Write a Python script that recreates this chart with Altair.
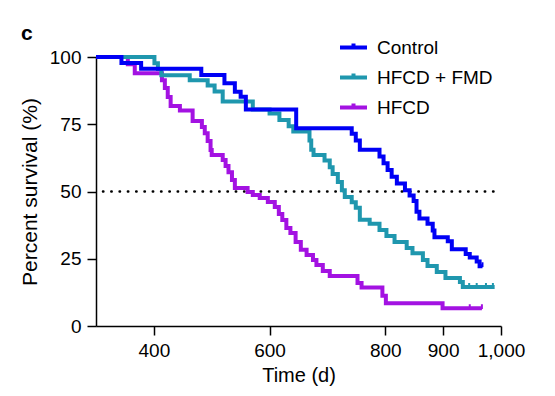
import altair as alt
import pandas as pd

# ---- data ----
groups = ["Control", "HFCD + FMD", "HFCD"]
colors = ["#0000f5", "#1f97ae", "#a312e2"]

control_t = [300, 344, 378, 482, 522, 540, 550, 559, 646, 742, 749, 756, 790, 797, 804, 811,
             820, 834, 842, 849, 854, 859, 873, 882, 885, 908, 915, 939, 946, 958, 963, 968]
control_s = [100, 97.8, 95.6, 93.3, 90.2, 87.1, 85.2, 80.5, 73.5, 71.5, 69, 65.5, 63, 60.5, 58, 55.5,
             53, 50.5, 48.5, 46.5, 42.5, 40, 38, 35.5, 33, 31.5, 28.5, 26.8, 25.5, 24, 22.2, 22.2]

fmd_t = [300, 401, 407, 413, 462, 493, 505, 519, 571, 600, 617, 633, 641, 669, 672, 676, 695, 704,
         709, 718, 725, 730, 742, 749, 756, 773, 790, 802, 816, 837, 847, 865, 873, 889, 904, 929,
         934, 989]
fmd_s = [100, 97.7, 95.5, 93.2, 91.4, 89.4, 87.2, 83.5, 80.5, 79, 76.6, 74.3, 72.3, 69, 65.5, 63.6,
         61.5, 59, 56.5, 53.5, 50.5, 48, 46, 44, 39.5, 38, 35.7, 33.5, 31.2, 29, 27, 24.5, 22.3, 20.1,
         17.8, 16.4, 14.5, 14.5]

hfcd_t = [300, 355, 367, 414, 419, 424, 429, 445, 467, 483, 488, 493, 498, 500, 519, 524, 529, 535,
          540, 562, 571, 583, 597, 609, 616, 622, 629, 636, 645, 654, 664, 675, 681, 692, 704, 752,
          759, 795, 801, 899, 967]
hfcd_s = [100, 97.3, 94, 91.4, 88.5, 85.1, 81.8, 80.1, 76.2, 74, 71.7, 68.8, 65.4, 63.6, 61.7, 59.5,
          57.2, 54.3, 51.3, 49.8, 48.7, 47.6, 46.1, 44.2, 41.6, 39.4, 36.4, 34.6, 31.2, 28.3, 26.4,
          24.5, 22.7, 20.4, 18.6, 16, 14.3, 11.2, 8.5, 6.6, 6.6]

# censored observations (tick marks)
cens_group = ["Control", "Control", "HFCD + FMD", "HFCD + FMD", "HFCD + FMD", "HFCD + FMD",
              "HFCD", "HFCD"]
cens_t = [963, 968, 945, 958, 974, 986, 946, 967]
cens_s = [22.2, 22.2, 14.5, 14.5, 14.5, 14.5, 6.6, 6.6]

x_ticks = [400, 600, 800, 900, 1000]
y_ticks = [0, 25, 50, 75, 100]
median_line = {"t0": [312], "t1": [989], "s": [50]}

# ---- tables ----
rows = []
for g, ts, ss in [("Control", control_t, control_s),
                  ("HFCD + FMD", fmd_t, fmd_s),
                  ("HFCD", hfcd_t, hfcd_s)]:
    for t, s in zip(ts, ss):
        rows.append({"group": g, "t": t, "s": s})
curves = pd.DataFrame(rows)
cens = pd.DataFrame({"group": cens_group, "t": cens_t, "s": cens_s})
ref = pd.DataFrame(median_line)

FONT = "Liberation Sans"

x_enc = alt.X("t:Q", scale=alt.Scale(domain=[300, 1000], nice=False, zero=False),
              axis=alt.Axis(values=x_ticks, format=",d", title="Time (d)",
                            labelOverlap=False, labelFlush=False, labelBound=False))
y_enc = alt.Y("s:Q", scale=alt.Scale(domain=[0, 100], nice=False),
              axis=alt.Axis(values=y_ticks, format="d", title="Percent survival (%)",
                            labelOverlap=False, labelFlush=False))
color_enc = alt.Color("group:N",
                      scale=alt.Scale(domain=groups, range=colors),
                      legend=alt.Legend(orient="none", legendX=242, legendY=-25, title=None,
                                        labelFontSize=19, labelFont=FONT, labelColor="black",
                                        symbolType="M-1,0H1M0,0V-0.3",
                                        symbolSize=729, symbolStrokeWidth=4,
                                        labelOffset=8, rowPadding=4))

layers = []
for g in ["HFCD", "HFCD + FMD", "Control"]:
    layers.append(
        alt.Chart(curves).transform_filter(alt.datum.group == g)
        .mark_line(interpolate="step-after", strokeWidth=4, strokeCap="butt")
        .encode(x=x_enc, y=y_enc, color=color_enc)
    )

ticks = alt.Chart(cens).mark_point(shape="M0,-1V0.2", size=64, strokeWidth=2, filled=False,
                                   opacity=1).encode(
    x="t:Q", y="s:Q",
    stroke=alt.Stroke("group:N", scale=alt.Scale(domain=groups, range=colors), legend=None))

rule = alt.Chart(ref).mark_rule(color="black", strokeDash=[0.5, 7.8], strokeCap="round",
                                strokeWidth=2.4).encode(x="t0:Q", x2="t1:Q", y="s:Q")

chart = alt.layer(rule, *layers, ticks).properties(
    width=405, height=269,
    autosize=alt.AutoSizeParams(type="none"),
    padding={"left": 88, "top": 49, "right": 46, "bottom": 62},
    title=alt.TitleParams("c", anchor="start", frame="group", dx=-75, dy=12, offset=0,
                          fontSize=21, fontWeight="bold", font=FONT, color="black"),
).configure_view(stroke=None).configure_axis(
    grid=False, domainColor="black", domainWidth=1.5, tickColor="black", tickWidth=1.5,
    tickSize=9, labelFont=FONT, labelFontSize=19, labelColor="black", labelPadding=6,
    titleFont=FONT, titleFontSize=20, titleFontWeight="normal", titleColor="black",
).configure_axisY(titlePadding=9, titleFontSize=21).configure_axisX(titlePadding=5)

chart.save("out.html", embed_options={"renderer": "svg", "actions": False})
